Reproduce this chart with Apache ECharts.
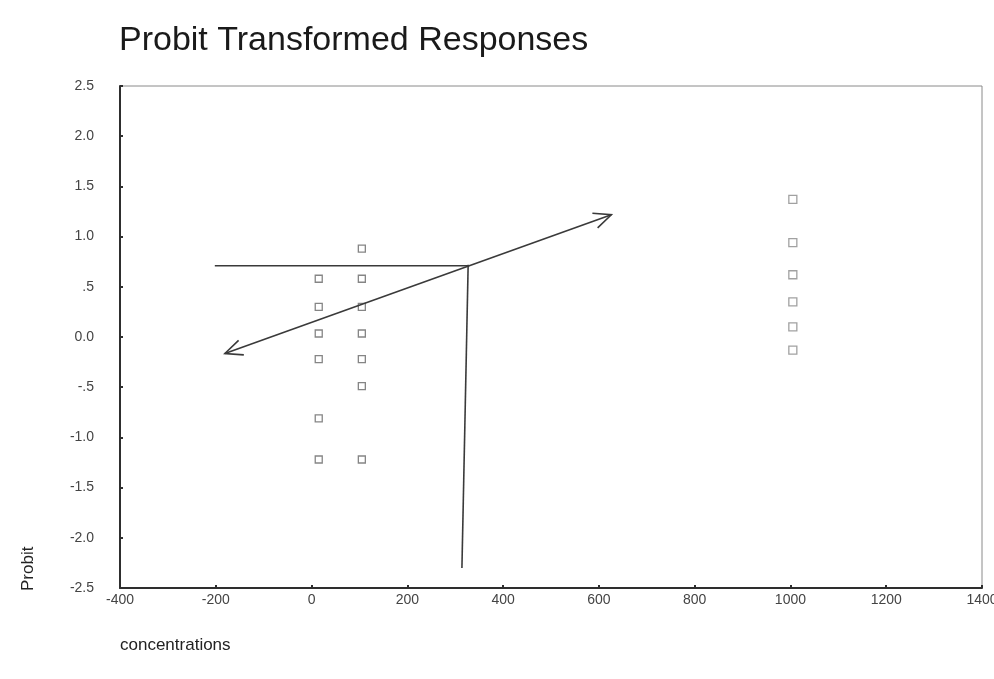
<!DOCTYPE html>
<html>
<head>
<meta charset="utf-8">
<title>Probit Transformed Responses</title>
<script src="https://cdn.jsdelivr.net/npm/echarts@6/dist/echarts.min.js"></script>
<style>
  html, body { margin: 0; padding: 0; background: #ffffff; }
  #chart { width: 994px; height: 679px; }
</style>
</head>
<body>
<div id="chart"></div>
<script>
// Probit values observed at each concentration
const concLow = 15;
const concMid = 105;
const concHigh = 1005;
const probitLow = [0.58, 0.30, 0.035, -0.22, -0.81, -1.22];
const probitMid = [0.88, 0.58, 0.30, 0.035, -0.22, -0.49, -1.22];
const probitHigh = [1.37, 0.94, 0.62, 0.35, 0.10, -0.13];

// Axis tick labels
const xTickLabels = ['-400', '-200', '0', '200', '400', '600', '800', '1000', '1200', '1400'];
const yTickLabels = ['-2.5', '-2.0', '-1.5', '-1.0', '-.5', '0.0', '.5', '1.0', '1.5', '2.0', '2.5'];

// Hand-drawn reading lines: fitted trend (double arrow), level line and drop line
const trendLine = [[-181, -0.164], [626, 1.218]];
const levelLine = [[-202, 0.71], [329, 0.71]];
const dropLine = [[327, 0.72], [314, -2.30]];

const toPoints = (xv, ys) => ys.map(y => [xv, y]);

const chart = echarts.init(document.getElementById('chart'), null, { renderer: 'canvas' });

function drawSegment(params, api) {
  const seg = api.value(4);
  const p0 = api.coord([api.value(0), api.value(1)]);
  const p1 = api.coord([api.value(2), api.value(3)]);
  const children = [{
    type: 'line',
    shape: { x1: p0[0], y1: p0[1], x2: p1[0], y2: p1[1] },
    style: { stroke: '#3a3a3a', lineWidth: 1.6 }
  }];
  if (seg === 0) {
    // open arrow heads at both ends
    const head = (tip, from) => {
      const ang = Math.atan2(from[1] - tip[1], from[0] - tip[0]);
      const len = 19, spread = 0.42;
      return {
        type: 'polyline',
        shape: { points: [
          [tip[0] + len * Math.cos(ang + spread), tip[1] + len * Math.sin(ang + spread)],
          tip,
          [tip[0] + len * Math.cos(ang - spread), tip[1] + len * Math.sin(ang - spread)]
        ] },
        style: { stroke: '#3a3a3a', lineWidth: 1.6, fill: null }
      };
    };
    children.push(head(p0, p1), head(p1, p0));
  }
  return { type: 'group', children: children };
}

const segData = [
  [trendLine[0][0], trendLine[0][1], trendLine[1][0], trendLine[1][1], 0],
  [levelLine[0][0], levelLine[0][1], levelLine[1][0], levelLine[1][1], 1],
  [dropLine[0][0], dropLine[0][1], dropLine[1][0], dropLine[1][1], 2]
];

const markerStyle = (c) => ({ color: 'transparent', borderColor: c, borderWidth: 1.3 });

chart.setOption({
  animation: false,
  backgroundColor: '#ffffff',
  title: {
    text: 'Probit Transformed Responses',
    left: 114,
    top: 19,
    textStyle: { fontFamily: 'Liberation Sans', fontSize: 34, fontWeight: 'normal', color: '#1a1a1a' }
  },
  graphic: [
    {
      type: 'text', left: 120, top: 637,
      style: { text: 'concentrations', font: '17px "Liberation Sans"', fill: '#222' }
    },
    {
      type: 'text', x: 20, y: 591, rotation: Math.PI / 2,
      style: { text: 'Probit', font: '17px "Liberation Sans"', fill: '#222', align: 'left', verticalAlign: 'top' }
    }
  ],
  grid: {
    left: 120, top: 86, right: 12, bottom: 91,
    containLabel: false, outerBoundsMode: 'none',
    show: true, borderColor: '#8a8a8a', borderWidth: 1
  },
  xAxis: {
    type: 'value',
    min: -400, max: 1400, interval: 200,
    axisLine: { onZero: false, lineStyle: { color: '#2e2e2e', width: 2 } },
    axisTick: { inside: true, length: 3, lineStyle: { color: '#2e2e2e', width: 2 } },
    axisLabel: {
      margin: 5,
      fontFamily: 'Liberation Sans', fontSize: 14, color: '#444',
      formatter: (v) => xTickLabels[Math.round((v + 400) / 200)]
    },
    splitLine: { show: false }
  },
  yAxis: {
    type: 'value',
    min: -2.5, max: 2.5, interval: 0.5,
    axisLine: { onZero: false, lineStyle: { color: '#2e2e2e', width: 2 } },
    axisTick: { inside: true, length: 3, lineStyle: { color: '#2e2e2e', width: 2 } },
    axisLabel: {
      margin: 26,
      fontFamily: 'Liberation Sans', fontSize: 14, color: '#444',
      formatter: (v) => yTickLabels[Math.round((v + 2.5) / 0.5)]
    },
    splitLine: { show: false }
  },
  series: [
    {
      type: 'scatter', symbol: 'rect', symbolSize: 7,
      itemStyle: markerStyle('#666'),
      data: toPoints(concLow, probitLow)
    },
    {
      type: 'scatter', symbol: 'rect', symbolSize: 7,
      itemStyle: markerStyle('#666'),
      data: toPoints(concMid, probitMid)
    },
    {
      type: 'scatter', symbol: 'rect', symbolSize: 8,
      itemStyle: markerStyle('#8a8a8a'),
      data: toPoints(concHigh, probitHigh)
    },
    {
      type: 'custom',
      renderItem: drawSegment,
      data: segData,
      encode: { x: [0, 2], y: [1, 3] },
      z: 5
    }
  ]
});
</script>
</body>
</html>
